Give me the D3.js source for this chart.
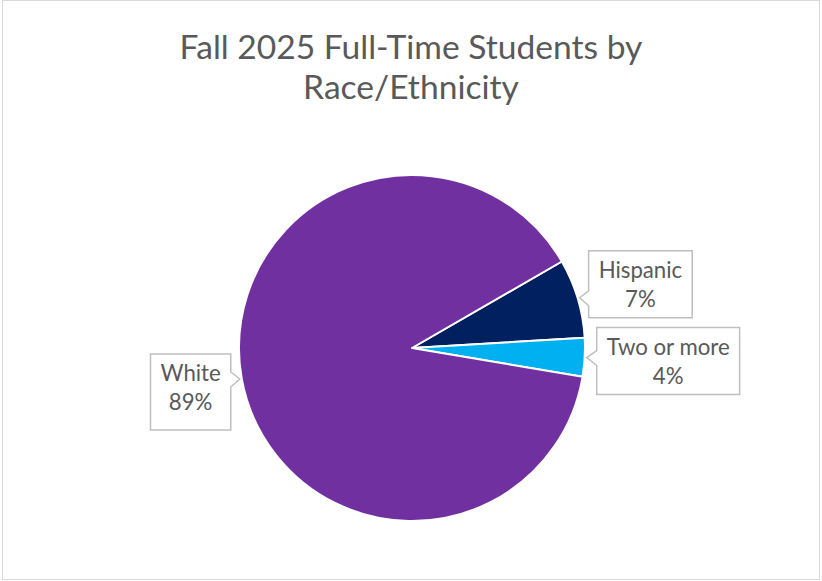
<!DOCTYPE html>
<html>
<head>
<meta charset="utf-8">
<script src="https://cdn.jsdelivr.net/npm/d3@7/dist/d3.min.js"></script>
<style>
  html, body { margin: 0; padding: 0; background: #fff; }
  svg { display: block; }
  text { font-family: "Lato", "Open Sans", sans-serif; fill: #595959; }
</style>
</head>
<body>
<svg id="chart" width="822" height="581"></svg>
<script>
// ---- data ----
const titleLines = ["Fall 2025 Full-Time Students by", "Race/Ethnicity"];
const categories = ["Hispanic", "Two or more", "White"];
const values = [7.4, 3.6, 89.0];
const colors = ["#002060", "#00B0F0", "#7030A0"];

// ---- layout ----
const W = 822, H = 581;
const cx = 412, cy = 348, R = 173;
const startDeg = 60;
// callout box placement relative to pointer tip
const calloutLayout = [
  { side: 1, gap: 9, dyTop: -47, h: 67 },
  { side: 1, gap: 10, dyTop: -30, h: 67 },
  { side: -1, gap: 9, dyTop: -25, h: 76 }
];

const svg = d3.select("#chart");

// chart border
svg.append("rect")
  .attr("x", 2.5).attr("y", 0.5)
  .attr("width", W - 5).attr("height", H - 2)
  .attr("fill", "#fff")
  .attr("stroke", "#d9d9d9").attr("stroke-width", 1);

// title
const titleG = svg.append("g");
const tmp = titleG.append("text").attr("font-size", 100).text(titleLines[0]);
const w100 = tmp.node().getComputedTextLength();
tmp.remove();
const titleSize = 100 * 463 / w100;
titleLines.forEach((t, i) => {
  titleG.append("text")
    .attr("x", 411).attr("y", 59 + i * 40)
    .attr("text-anchor", "middle")
    .attr("font-size", titleSize)
    .text(t);
});

// pie
const pie = d3.pie().sort(null).value(d => d)
  .startAngle(startDeg * Math.PI / 180)
  .endAngle(startDeg * Math.PI / 180 + 2 * Math.PI);
const arcs = pie(values);
const arc = d3.arc().innerRadius(0).outerRadius(R);

const g = svg.append("g").attr("transform", `translate(${cx},${cy})`);
g.selectAll("path.slice")
  .data(arcs)
  .join("path")
  .attr("class", "slice")
  .attr("d", arc)
  .attr("fill", (d, i) => colors[i])
  .attr("stroke", "#fff")
  .attr("stroke-width", 2)
  .attr("stroke-linejoin", "round");

// label font size fit
const tmp2 = svg.append("text").attr("font-size", 100).text("Two or more");
const lw100 = tmp2.node().getComputedTextLength();
tmp2.remove();
const labelSize = 100 * 123 / lw100;
const lineH = 29;
const padX = 10;

arcs.forEach((a, i) => {
  const mid = (a.startAngle + a.endAngle) / 2;
  const tipX = cx + (R + 2) * Math.sin(mid);
  const tipY = cy - (R + 2) * Math.cos(mid);
  const L = calloutLayout[i];
  const pct = Math.round(values[i] / d3.sum(values) * 100) + "%";

  const lg = svg.append("g");
  const t1 = lg.append("text").attr("font-size", labelSize).attr("text-anchor", "middle").text(categories[i]);
  const t2 = lg.append("text").attr("font-size", labelSize).attr("text-anchor", "middle").text(pct);
  const tw = Math.max(t1.node().getComputedTextLength(), t2.node().getComputedTextLength());
  const bw = tw + 2 * padX;
  const top = tipY + L.dyTop, bot = top + L.h;
  let left, right;
  if (L.side === 1) { left = tipX + L.gap; right = left + bw; }
  else { right = tipX - L.gap; left = right - bw; }
  const nTop = Math.max(top + 2, tipY - 7), nBot = Math.min(bot - 2, tipY + 8);
  let p;
  if (L.side === 1) {
    p = `M${left},${top}H${right}V${bot}H${left}V${nBot}L${tipX},${tipY}L${left},${nTop}Z`;
  } else {
    p = `M${left},${top}H${right}V${nTop}L${tipX},${tipY}L${right},${nBot}V${bot}H${left}Z`;
  }
  lg.insert("path", "text").attr("d", p)
    .attr("fill", "#fff").attr("stroke", "#bfbfbf").attr("stroke-width", 1.5);
  const bx = (left + right) / 2;
  t1.attr("x", bx).attr("y", top + 27);
  t2.attr("x", bx).attr("y", top + 27 + lineH);
});
</script>
</body>
</html>
